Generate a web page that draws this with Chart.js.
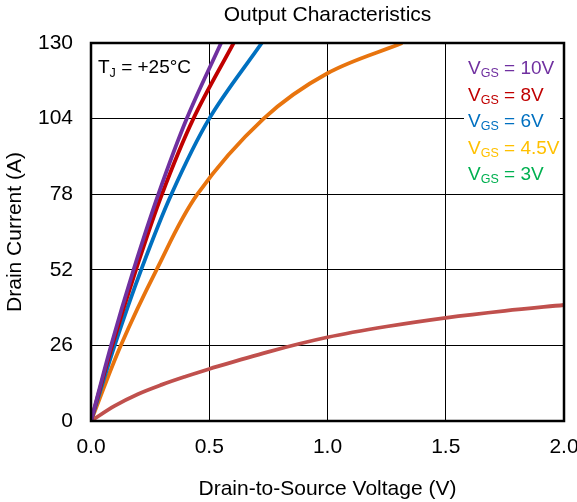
<!DOCTYPE html>
<html>
<head>
<meta charset="utf-8">
<script src="https://cdn.jsdelivr.net/npm/chart.js@4.4.0/dist/chart.umd.min.js"></script>
<style>
  html, body { margin: 0; padding: 0; background: #fff; }
  #wrap { width: 577px; height: 502px; }
</style>
</head>
<body>
<div id="wrap"><canvas id="ivChart"></canvas></div>
<script>
const fontFamily = "'Liberation Sans', Arial, sans-serif";

// drain-source voltage (V) and drain current (A) per gate voltage
const vds10V = [0, 0.085, 0.180, 0.285, 0.405, 0.550];
const id10V = [0, 26, 52, 78, 104, 130];
const vds8V = [0, 0.090, 0.190, 0.300, 0.433, 0.603];
const id8V = [0, 26, 52, 78, 104, 130];
const vds6V = [0, 0.100, 0.212, 0.340, 0.500, 0.722];
const id6V = [0, 26, 52, 78, 104, 130];
const vds45V = [0, 0.126, 0.277, 0.450, 0.730, 1.0, 1.316];
const id45V = [0, 26, 52, 78, 104, 119.6, 130];
const vds3V = [0, 0.1, 0.2, 0.3, 0.4, 0.5, 0.75, 1.0, 1.25, 1.5, 1.75, 2.0];
const id3V = [0, 5.2, 9.3, 12.5, 15.3, 17.9, 23.8, 28.8, 32.5, 35.5, 37.9, 39.9];

const yTickValues = [0, 26, 52, 78, 104, 130];
const xTickValues = [0, 0.5, 1.0, 1.5, 2.0];

const legendVoltages = ["10V", "8V", "6V", "4.5V", "3V"];
const legendColors = ["#7030A0", "#C00000", "#0070C0", "#FFC000", "#00B050"];

function zip(xs, ys) {
  return xs.map((x, i) => ({ x: x, y: ys[i] }));
}

function curve(label, xs, ys, color) {
  return {
    label: label,
    data: zip(xs, ys),
    borderColor: color,
    backgroundColor: color,
    borderWidth: 3.8,
    pointRadius: 0,
    tension: 0.35,
    fill: false
  };
}

// frame, junction temperature note and the coloured legend with subscripts
const annotations = {
  id: "annotations",
  afterDatasetsDraw(chart) {
    const ctx = chart.ctx;
    const a = chart.chartArea;
    ctx.save();
    ctx.strokeStyle = "#000";
    ctx.lineWidth = 2.5;
    ctx.strokeRect(a.left, a.top, a.right - a.left, a.bottom - a.top);

    ctx.fillStyle = "#fff";
    ctx.fillRect(464, 49, 96, 139);

    ctx.textBaseline = "alphabetic";
    ctx.textAlign = "left";

    // T_J = +25°C
    ctx.fillStyle = "#000";
    let x = 98;
    ctx.font = "19px " + fontFamily;
    ctx.fillText("T", x, 73);
    x += ctx.measureText("T").width;
    ctx.font = "12.5px " + fontFamily;
    ctx.fillText("J", x, 77);
    x += ctx.measureText("J").width;
    ctx.font = "19px " + fontFamily;
    ctx.fillText(" = +25°C", x, 73);

    legendVoltages.forEach((v, i) => {
      const y = 74 + i * 26.5;
      let lx = 468;
      ctx.fillStyle = legendColors[i];
      ctx.font = "19px " + fontFamily;
      ctx.fillText("V", lx, y);
      lx += ctx.measureText("V").width;
      ctx.font = "12.5px " + fontFamily;
      ctx.fillText("GS", lx, y + 3);
      lx += ctx.measureText("GS").width;
      ctx.font = "19px " + fontFamily;
      ctx.fillText(" = " + v, lx, y);
    });
    ctx.restore();
  }
};

new Chart(document.getElementById("ivChart"), {
  type: "line",
  data: {
    datasets: [
      curve("VGS = 10V", vds10V, id10V, "#7030A0"),
      curve("VGS = 8V", vds8V, id8V, "#C00000"),
      curve("VGS = 6V", vds6V, id6V, "#0070C0"),
      curve("VGS = 4.5V", vds45V, id45V, "#E8740E"),
      curve("VGS = 3V", vds3V, id3V, "#C0504D")
    ]
  },
  options: {
    responsive: true,
    maintainAspectRatio: false,
    animation: false,
    layout: { padding: { left: 0, right: 13, top: 0, bottom: 0 } },
    plugins: {
      legend: { display: false },
      tooltip: { enabled: false },
      title: {
        display: true,
        text: "Output Characteristics",
        fullSize: false,
        color: "#000",
        font: { family: fontFamily, size: 21, weight: "normal" },
        padding: { top: 2.4, bottom: 15.4 }
      }
    },
    scales: {
      x: {
        type: "linear",
        min: 0,
        max: 2,
        afterBuildTicks: (scale) => { scale.ticks = xTickValues.map(v => ({ value: v })); },
        afterFit: (scale) => { scale.height = 81; scale.paddingLeft = 0; scale.paddingRight = 0; },
        grid: { color: "#000", lineWidth: 1, drawTicks: false },
        border: { display: false },
        ticks: {
          padding: 14,
          color: "#000",
          font: { family: fontFamily, size: 21 },
          callback: (v) => Number(v).toFixed(1)
        },
        title: {
          display: true,
          text: "Drain-to-Source Voltage (V)",
          color: "#000",
          font: { family: fontFamily, size: 21 },
          padding: { top: 0, bottom: 0 }
        }
      },
      y: {
        min: 0,
        max: 130,
        afterBuildTicks: (scale) => { scale.ticks = yTickValues.map(v => ({ value: v })); },
        afterFit: (scale) => { scale.width = 91; },
        grid: { color: "#000", lineWidth: 1, drawTicks: false },
        border: { display: false },
        ticks: {
          padding: 18,
          color: "#000",
          font: { family: fontFamily, size: 21 }
        },
        title: {
          display: true,
          text: "Drain Current (A)",
          color: "#000",
          font: { family: fontFamily, size: 21 },
          padding: { top: 2.4, bottom: 0 }
        }
      }
    }
  },
  plugins: [annotations]
});
</script>
</body>
</html>
